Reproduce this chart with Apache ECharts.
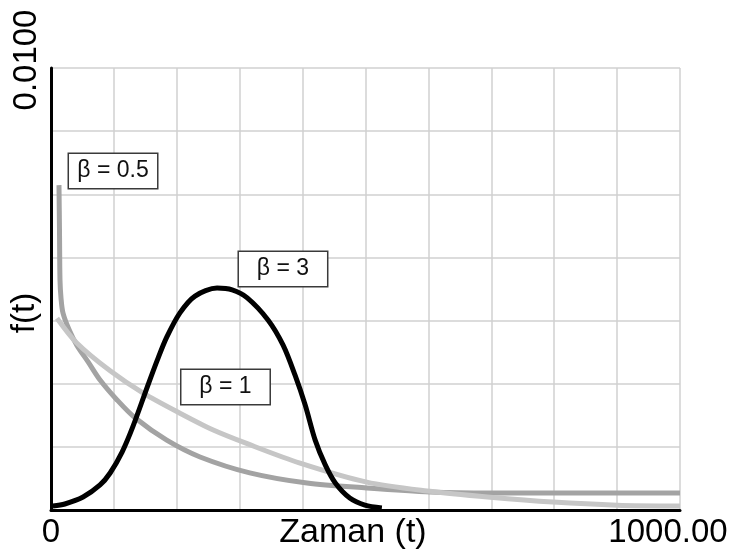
<!DOCTYPE html>
<html>
<head>
<meta charset="utf-8">
<script src="https://cdn.jsdelivr.net/npm/echarts@6/dist/echarts.min.js"></script>
<style>
  html, body { margin: 0; padding: 0; background: #ffffff; }
  #chart { width: 735px; height: 556px; }
</style>
</head>
<body>
<div id="chart"></div>
<script>
// Weibull density curves f(t) for three shape parameters

// beta = 0.5
const tBeta05 = [12.7, 13.5, 14.3, 16, 19, 29, 41, 59, 78, 105, 134, 184, 237, 316, 407, 502, 603, 698, 798, 900, 1000];
const fBeta05 = [0.00735, 0.00634, 0.00520, 0.00478, 0.00446, 0.00407, 0.00373, 0.00335, 0.00294, 0.00249, 0.00208, 0.00158, 0.00120, 0.00084, 0.00061, 0.00050, 0.00041, 0.000385, 0.000385, 0.000385, 0.000385];

// beta = 1
const tBeta1 = [9.5, 41, 94, 146, 205, 258, 312, 396, 502, 598, 698, 798, 900, 1000];
const fBeta1 = [0.00434, 0.00378, 0.00315, 0.00265, 0.00219, 0.00181, 0.00150, 0.00106, 0.00063, 0.00043, 0.00029, 0.00018, 0.00011, 0.00009];

// beta = 3
const tBeta3 = [3, 22, 51, 78, 94, 113, 130, 153, 169, 184, 205, 229, 264, 288, 312, 345, 369, 388, 404, 420, 436, 452, 475, 499, 526];
const fBeta3 = [0.00009, 0.000136, 0.000294, 0.000566, 0.000837, 0.00131, 0.00188, 0.00278, 0.00339, 0.00391, 0.00446, 0.00484, 0.00502, 0.00498, 0.00480, 0.00430, 0.00373, 0.00305, 0.00238, 0.00158, 0.00102, 0.00061, 0.00027, 0.00011, 0.000045];

const seriesNames = ['β = 0.5', 'β = 1', 'β = 3'];
// where each name tag sits, in (t, f) units
const tagT = [98.6, 277.4, 368.8];
const tagF = [0.00767, 0.002783, 0.005452];

const xMin = 0, xMax = 1000, xStep = 100;
const yMin = 0, yMax = 0.01, yStep = 0.01 / 7;
const xTickLabels = { 0: '0', 1000: '{end|1000.00}' };
const yTopLabel = '0.0100';
const xName = 'Zaman (t)';
const yName = 'f(t)';

const pair = (ts, fs) => ts.map((t, i) => [t, fs[i]]);
const FONT = 'Liberation Sans, Arial, sans-serif';

const tagStyle = {
  show: true,
  color: '#111',
  fontFamily: FONT,
  fontSize: 23,
  backgroundColor: '#ffffff',
  borderColor: '#3a3a3a',
  borderWidth: 1.5,
  width: 74,
  height: 22,
  lineHeight: 22,
  align: 'center',
  verticalAlign: 'middle',
  padding: [6, 7, 6, 7],
  position: 'inside'
};

function tag(i) {
  return {
    silent: true,
    symbol: 'rect',
    symbolSize: 1,
    itemStyle: { color: 'rgba(0,0,0,0)' },
    label: Object.assign({ formatter: seriesNames[i] }, tagStyle),
    data: [{ coord: [tagT[i], tagF[i]] }]
  };
}

const lineColors = ['#a3a3a3', '#c6c6c6', '#000000'];
const chart = echarts.init(document.getElementById('chart'), null, { renderer: 'canvas' });

chart.setOption({
  animation: false,
  backgroundColor: '#ffffff',
  grid: { left: 51, right: 55, top: 68, bottom: 46, containLabel: false, outerBoundsMode: 'none' },
  xAxis: {
    type: 'value',
    min: xMin, max: xMax, interval: xStep,
    name: xName,
    nameLocation: 'middle',
    nameGap: 6,
    nameMoveOverlap: false,
    nameTextStyle: {
      color: '#000', fontSize: 34, fontFamily: FONT,
      verticalAlign: 'top', padding: [0, 25, 0, 0]
    },
    axisLine: { show: true, lineStyle: { color: '#000', width: 3 } },
    axisTick: { show: false },
    splitLine: { show: true, lineStyle: { color: '#d0d0d0', width: 1.5 } },
    axisLabel: {
      show: true, margin: 6, color: '#000', fontSize: 33, fontFamily: FONT,
      showMinLabel: true, showMaxLabel: true,
      hideOverlap: false,
      formatter: v => (xTickLabels[Math.round(v)] !== undefined ? xTickLabels[Math.round(v)] : ''),
      rich: {
        end: { fontSize: 33, fontFamily: FONT, color: '#000', padding: [0, 24, 0, 0] }
      }
    }
  },
  yAxis: {
    type: 'value',
    min: yMin, max: yMax, interval: yStep,
    name: yName,
    nameLocation: 'middle',
    nameGap: 10,
    nameRotate: 90,
    nameMoveOverlap: false,
    nameTextStyle: {
      color: '#000', fontSize: 33, fontFamily: FONT,
      padding: [0, 48, 0, 0]
    },
    axisLine: { show: true, lineStyle: { color: '#000', width: 3 } },
    axisTick: { show: false },
    splitLine: { show: true, lineStyle: { color: '#d0d0d0', width: 1.5 } },
    axisLabel: {
      show: true, rotate: 90, margin: 8, color: '#000', fontSize: 33, fontFamily: FONT,
      showMaxLabel: true,
      padding: [0, 0, 0, 16],
      formatter: v => (Math.abs(v - yMax) < 1e-9 ? yTopLabel : '')
    }
  },
  series: [
    {
      name: seriesNames[0], type: 'line', data: pair(tBeta05, fBeta05),
      smooth: 0.3, showSymbol: false, z: 2,
      lineStyle: { color: lineColors[0], width: 5 },
      markPoint: tag(0)
    },
    {
      name: seriesNames[1], type: 'line', data: pair(tBeta1, fBeta1),
      smooth: 0.3, showSymbol: false, z: 3,
      lineStyle: { color: lineColors[1], width: 5 },
      markPoint: tag(1)
    },
    {
      name: seriesNames[2], type: 'line', data: pair(tBeta3, fBeta3),
      smooth: 0.3, showSymbol: false, z: 4,
      lineStyle: { color: lineColors[2], width: 5 },
      markPoint: tag(2)
    }
  ]
});
</script>
</body>
</html>
